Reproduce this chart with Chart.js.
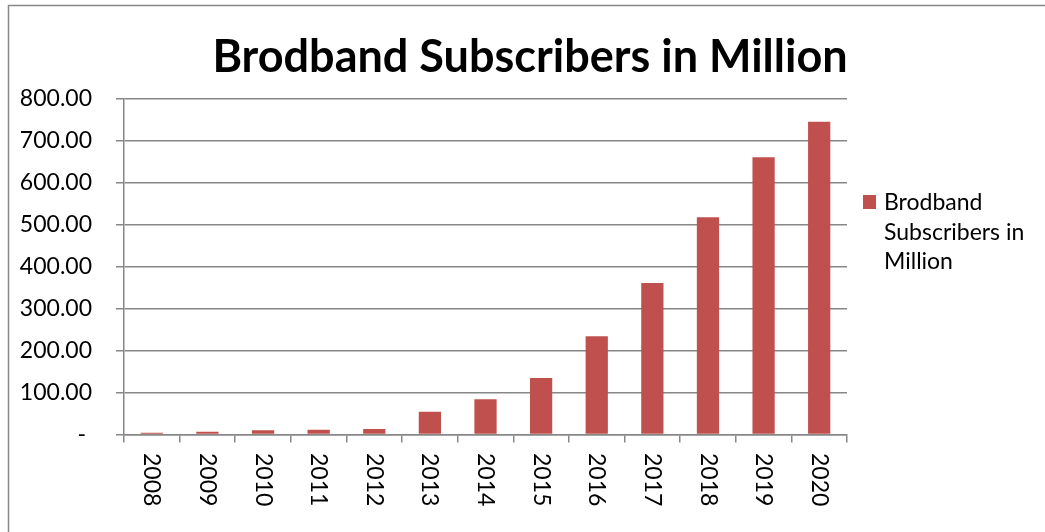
<!DOCTYPE html>
<html>
<head>
<meta charset="utf-8">
<script src="https://cdn.jsdelivr.net/npm/chart.js@4/dist/chart.umd.min.js"></script>
<style>
  html, body { margin: 0; padding: 0; background: #fff; }
  #wrap { position: relative; width: 1045px; height: 532px; }
</style>
</head>
<body>
<div id="wrap"><canvas id="subsChart"></canvas></div>
<script>
// ===== Data =====
const years = ['2008', '2009', '2010', '2011', '2012', '2013', '2014', '2015', '2016', '2017', '2018', '2019', '2020'];
const subscribers = [4, 6.5, 10, 11.5, 13, 54, 84, 134.5, 234, 361, 518, 661, 746];
const yMin = 0, yMax = 800, yStep = 100;
const chartTitle = 'Brodband Subscribers in Million';
const seriesName = 'Brodband Subscribers in Million';
const legendLines = ['Brodband', 'Subscribers in', 'Million'];

const barColor = '#C0504D';
const lineColor = '#878787';
const fontFamily = 'Lato, "Open Sans", sans-serif';

// ===== Extras drawn on the canvas: frame, title, legend, rotated year labels =====
const extrasPlugin = {
  id: 'extras',
  afterDraw(chart) {
    const ctx = chart.ctx;
    const xScale = chart.scales.x;
    ctx.save();

    // outer frame
    ctx.strokeStyle = lineColor;
    ctx.lineWidth = 1.5;
    ctx.strokeRect(8.5, 5.5, 1060, 560);

    // title
    ctx.fillStyle = '#000';
    ctx.font = `bold 45px ${fontFamily}`;
    ctx.textAlign = 'center';
    ctx.textBaseline = 'alphabetic';
    ctx.fillText(chartTitle, 530, 72);

    // legend
    ctx.fillStyle = barColor;
    ctx.fillRect(863, 195, 13, 14);
    ctx.fillStyle = '#000';
    ctx.font = `23px ${fontFamily}`;
    ctx.textAlign = 'left';
    legendLines.forEach((line, i) => ctx.fillText(line, 884, 210 + i * 29.5));

    // year labels, reading top to bottom
    ctx.font = `23px ${fontFamily}`;
    ctx.textBaseline = 'middle';
    years.forEach((yr, i) => {
      const x = xScale.getPixelForValue(i);
      ctx.save();
      ctx.translate(x, 453);
      ctx.rotate(Math.PI / 2);
      ctx.fillText(yr, 0, 0);
      ctx.restore();
    });

    ctx.restore();
  }
};

// ===== Chart =====
new Chart(document.getElementById('subsChart'), {
  type: 'bar',
  data: {
    labels: years,
    datasets: [{
      label: seriesName,
      data: subscribers,
      backgroundColor: barColor,
      categoryPercentage: 1,
      barPercentage: 0.4
    }]
  },
  options: {
    responsive: true,
    maintainAspectRatio: false,
    animation: false,
    events: [],
    layout: { padding: { left: 0, right: 198, top: 99, bottom: 0 } },
    plugins: {
      legend: { display: false },
      title: { display: false },
      tooltip: { enabled: false }
    },
    scales: {
      x: {
        offset: true,
        grid: { offset: true, drawOnChartArea: false, drawTicks: true, tickLength: 8, color: lineColor, lineWidth: 1.5 },
        border: { display: true, color: lineColor, width: 1.5 },
        ticks: { display: false },
        afterFit(scale) { scale.height = 97.5; }
      },
      y: {
        min: yMin,
        max: yMax,
        grid: { drawTicks: true, tickLength: 8, color: lineColor, lineWidth: 1.5 },
        border: { display: true, color: lineColor, width: 1.5 },
        ticks: {
          stepSize: yStep,
          padding: 24,
          color: '#000',
          font: { family: fontFamily, size: 23 },
          callback: v => v === 0 ? '- ' : v.toFixed(2)
        },
        afterFit(scale) { scale.width = 124; }
      }
    }
  },
  plugins: [extrasPlugin]
});
</script>
</body>
</html>
